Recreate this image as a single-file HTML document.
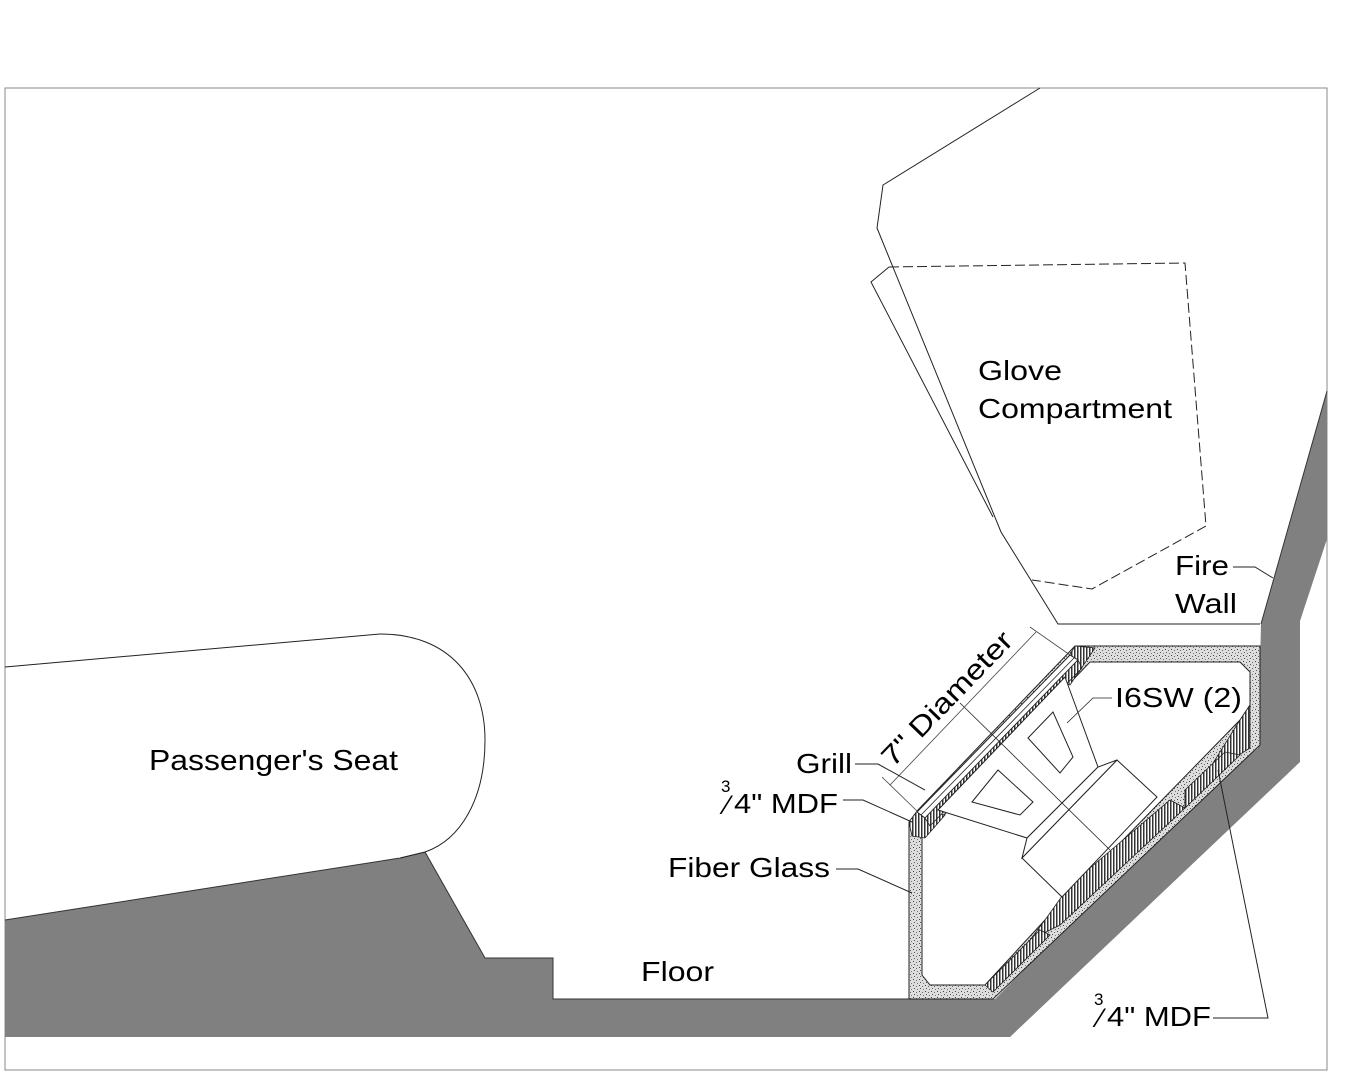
<!DOCTYPE html>
<html><head><meta charset="utf-8"><style>
html,body{margin:0;padding:0;background:#fff;}
svg{display:block;}
text{font-family:"Liberation Sans",sans-serif;fill:#000;}
</style></head><body>
<svg width="1350" height="1080" viewBox="0 0 1350 1080" xmlns="http://www.w3.org/2000/svg">
<defs>
<pattern id="hatch" width="3" height="3" patternUnits="userSpaceOnUse">
<rect width="3" height="3" fill="#fff"/><rect width="1.5" height="3" fill="#333"/></pattern>
<pattern id="stip" width="6" height="6" patternUnits="userSpaceOnUse">
<rect width="6" height="6" fill="#ddd"/>
<rect x="1" y="1" width="1" height="1" fill="#444"/><rect x="4" y="2" width="1" height="1" fill="#666"/>
<rect x="2" y="4" width="1" height="1" fill="#555"/><rect x="5" y="5" width="1" height="1" fill="#777"/></pattern>
</defs>
<rect x="5" y="88" width="1322" height="982" fill="#fff" stroke="#888" stroke-width="1"/>

<polygon points="1327,391 1327,539 1300,621 1300,762 1010,1037 5,1037 5,920 400,858 425,852 485,958 553,958 553,999 995,999 1185,808 1258,748 1261,624" fill="#808080"/>
<polyline points="5,920 400,858 425,852 485,958 553,958 553,999 910,999" fill="none" stroke="#333" stroke-width="1"/>
<polyline points="1261,624 1327,391" fill="none" stroke="#333" stroke-width="1"/>

<path d="M5,667 L380,634 C450,634 485,680 485,740 C485,800 460,840 425,852 L400,858" fill="#fff" stroke="#222" stroke-width="1"/>
<text x="149" y="770" font-size="29" textLength="249" lengthAdjust="spacingAndGlyphs">Passenger's Seat</text>

<polyline points="1040,88 883,185 877,228 1001,532 1058,624 1260,624" fill="none" stroke="#222" stroke-width="1"/>
<polyline points="889,267 871,282 993,517" fill="none" stroke="#222" stroke-width="1"/>
<polyline points="889,267 1185,263 1206,526 1092,589 1032,580" fill="none" stroke="#222" stroke-width="1" stroke-dasharray="10,4"/>
<text x="978" y="380" font-size="28" textLength="84" lengthAdjust="spacingAndGlyphs">Glove</text>
<text x="978" y="418" font-size="28" textLength="194" lengthAdjust="spacingAndGlyphs">Compartment</text>
<text x="1175" y="575" font-size="28" textLength="54" lengthAdjust="spacingAndGlyphs">Fire</text>
<text x="1175" y="613" font-size="28" textLength="62" lengthAdjust="spacingAndGlyphs">Wall</text>
<polyline points="1233,567 1255,567 1273,578" fill="none" stroke="#222" stroke-width="1"/>

<polygon points="909,822 918,810 1075,646 1260,646 1260,745 993,999 909,999" fill="url(#stip)" stroke="#222" stroke-width="1"/>
<polygon points="922,838 1090,662 1240,662 1250,672 1250,705 1240,720 1045,920 985,985 930,985 922,975" fill="#fff" stroke="#222" stroke-width="1"/>
<polygon points="909,822 918,810 945,815 925,838 912,836" fill="url(#hatch)" stroke="#222" stroke-width="0.8"/>
<polygon points="1075,646 1095,648 1070,685 1062,668" fill="url(#hatch)" stroke="#222" stroke-width="0.8"/>
<polygon points="1240,720 1250,705 1250,748 1215,770 1200,782 1185,790 1185,808" fill="url(#hatch)" stroke="#222" stroke-width="0.8"/>
<polygon points="1185,790 1225,752 1240,755 1185,808" fill="url(#hatch)" stroke="#222" stroke-width="0.8"/>
<polygon points="1045,920 1070,885 1170,800 1185,808 1060,925 1030,940" fill="url(#hatch)" stroke="#222" stroke-width="0.8"/>
<polygon points="985,985 1040,930 1050,935 993,992" fill="url(#hatch)" stroke="#222" stroke-width="0.8"/>

<polygon points="917,812 1070,655 1078,660 925,818" fill="#fff" stroke="#222" stroke-width="1"/>
<line x1="921" y1="815" x2="1074" y2="658" stroke="#222" stroke-width="0.8"/>
<polygon points="925,818 1078,660 1082,668 930,826" fill="url(#hatch)" stroke="#222" stroke-width="0.8"/>

<polygon points="938,810 1065,677 1098,767 1027,838" fill="#fff" stroke="#222" stroke-width="1"/>
<polygon points="1022,858 1117,760 1157,797 1062,897" fill="#fff" stroke="#222" stroke-width="1"/>
<polygon points="1027,838 1098,767 1117,760 1022,858" fill="#fff" stroke="#222" stroke-width="1"/>
<polygon points="972,802 998,770 1033,802 1020,815" fill="#fff" stroke="#222" stroke-width="1"/>
<polygon points="1028,738 1053,712 1073,757 1060,773" fill="#fff" stroke="#222" stroke-width="1"/>
<line x1="960" y1="703" x2="1110" y2="850" stroke="#222" stroke-width="0.8"/>

<line x1="890" y1="785" x2="1036" y2="632" stroke="#444" stroke-width="0.8"/>
<line x1="882" y1="777" x2="918" y2="812" stroke="#444" stroke-width="0.8"/>
<line x1="1030" y1="627" x2="1070" y2="655" stroke="#444" stroke-width="0.8"/>
<text x="0" y="0" font-size="28" transform="translate(893,768) rotate(-46)" textLength="175" lengthAdjust="spacingAndGlyphs">7" Diameter</text>

<text x="796" y="773" font-size="28" textLength="56" lengthAdjust="spacingAndGlyphs">Grill</text>
<polyline points="855,764 878,764 925,790" fill="none" stroke="#222" stroke-width="1"/>
<text x="721" y="792" font-size="17">3</text>
<text x="725" y="814" font-size="27">⁄</text>
<text x="734" y="813" font-size="28" textLength="104" lengthAdjust="spacingAndGlyphs">4" MDF</text>
<polyline points="843,800 863,800 912,822" fill="none" stroke="#222" stroke-width="1"/>
<text x="668" y="877" font-size="28" textLength="162" lengthAdjust="spacingAndGlyphs">Fiber Glass</text>
<polyline points="836,869 858,869 912,893" fill="none" stroke="#222" stroke-width="1"/>
<text x="641" y="981" font-size="28" textLength="73" lengthAdjust="spacingAndGlyphs">Floor</text>
<text x="1115" y="707" font-size="28" textLength="127" lengthAdjust="spacingAndGlyphs">I6SW (2)</text>
<polyline points="1112,698 1093,698 1067,723" fill="none" stroke="#222" stroke-width="0.8"/>
<text x="1094" y="1005" font-size="17">3</text>
<text x="1098" y="1027" font-size="27">⁄</text>
<text x="1107" y="1026" font-size="28" textLength="104" lengthAdjust="spacingAndGlyphs">4" MDF</text>
<polyline points="1213,1018 1268,1018 1218,770" fill="none" stroke="#222" stroke-width="1"/>
</svg>
</body></html>
